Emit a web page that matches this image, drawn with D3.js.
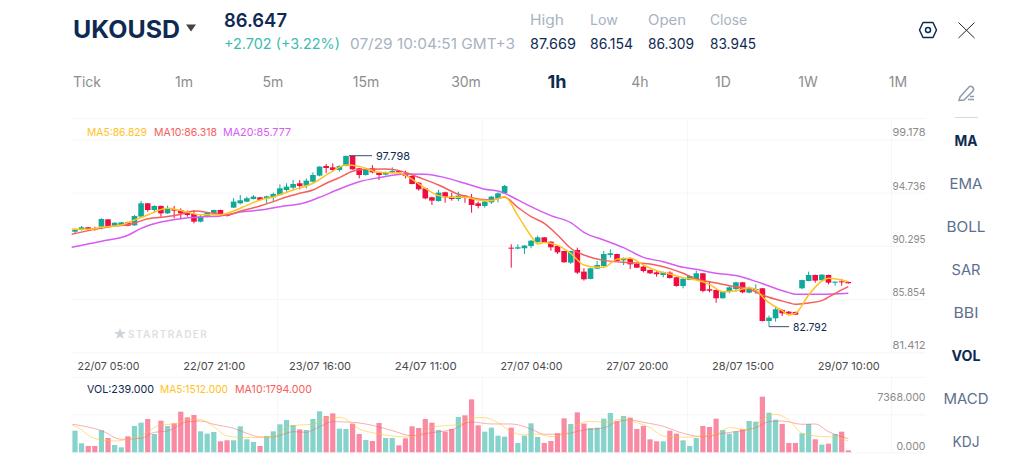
<!DOCTYPE html>
<html>
<head>
<meta charset="utf-8">
<script src="https://cdn.jsdelivr.net/npm/d3@7"></script>
<style>
  html, body { margin: 0; background: #fff; overflow: hidden; }
  text { font-family: Inter, "Open Sans", sans-serif; }
</style>
</head>
<body>
<div id="chart"></div>
<script>
// hourly candles
const open = [91.47,91.67,91.84,91.78,91.89,92.50,91.95,92.03,92.25,92.00,
  92.73,93.84,93.28,93.62,93.00,93.34,93.28,93.09,92.95,92.31,
  92.73,93.00,93.28,92.87,93.48,93.84,93.98,94.20,94.34,94.26,
  94.34,94.53,94.95,95.14,95.51,95.31,95.64,96.15,96.95,96.84,
  96.62,96.95,97.79,96.76,96.20,96.76,96.42,96.23,96.42,96.53,
  96.34,96.12,95.56,95.09,94.34,94.03,94.76,94.39,94.20,94.48,
  94.20,93.84,93.62,93.92,94.25,94.67,90.14,90.06,90.09,90.28,
  90.59,91.00,90.64,90.28,89.86,88.89,89.95,88.14,87.53,88.39,
  88.61,89.53,89.61,89.08,89.20,88.78,88.56,88.28,88.08,87.86,
  88.06,87.67,86.94,87.44,87.50,88.00,86.67,86.61,85.92,86.44,
  86.69,87.25,86.39,86.61,86.75,84.02,84.25,84.94,84.80,84.78,
  86.75,87.36,87.86,87.42,87.86,87.22,87.33,87.28];
const high = [91.73,91.95,91.86,91.89,92.59,92.53,92.25,92.28,92.31,92.86,
  94.03,93.87,93.67,93.64,93.64,93.62,93.42,93.23,93.28,92.86,
  93.12,93.31,93.31,93.00,94.26,94.53,94.40,94.53,94.37,94.48,
  94.73,95.42,95.51,95.78,95.78,95.92,96.42,96.92,97.12,97.17,
  97.01,97.81,97.81,96.79,96.70,97.03,96.45,96.48,96.84,96.62,
  96.56,96.17,95.62,95.14,94.39,94.95,94.81,94.73,94.81,94.53,
  94.62,93.98,94.03,94.45,94.76,95.37,90.42,90.42,90.36,90.78,
  91.14,91.03,90.67,90.31,89.89,89.89,90.14,88.42,88.45,89.03,
  89.86,90.00,89.64,89.33,89.33,88.81,88.69,88.31,88.22,88.14,
  88.17,87.69,87.58,87.83,88.22,88.03,87.30,86.64,86.47,86.92,
  87.30,87.28,86.89,87.08,86.78,84.47,85.22,85.00,84.86,84.80,
  87.47,88.14,87.89,87.92,87.89,87.33,87.53,87.30];
const low = [91.34,91.56,91.67,91.56,91.67,91.89,91.89,92.00,91.92,91.95,
  92.70,93.14,93.06,92.73,92.95,92.59,92.50,92.73,92.17,92.25,
  92.67,92.95,92.81,92.73,93.45,93.75,93.95,94.17,94.09,93.84,
  93.98,94.50,94.81,94.95,95.00,95.09,95.59,96.09,96.34,96.53,
  96.48,96.92,96.65,95.92,96.15,96.34,95.78,96.17,96.34,96.34,
  95.92,95.42,94.89,94.17,93.70,93.98,93.89,94.06,94.03,93.89,
  93.06,93.42,93.48,93.78,93.92,94.62,88.47,90.00,89.61,90.09,
  90.56,90.56,89.89,89.61,88.89,88.78,87.94,87.39,87.50,88.36,
  88.56,89.31,89.00,88.69,88.36,88.45,88.08,87.94,87.72,87.67,
  87.56,86.89,86.75,87.42,87.44,86.42,86.42,85.55,85.89,86.33,
  86.47,86.33,86.33,86.28,83.99,83.55,83.97,84.44,84.61,84.53,
  86.67,87.33,87.22,87.39,87.08,86.97,86.97,87.14];
const close = [91.61,91.84,91.70,91.67,92.53,91.95,92.22,92.25,91.97,92.78,
  93.84,93.28,93.62,93.00,93.42,93.23,93.00,92.86,92.31,92.73,
  93.06,93.28,92.95,92.81,93.98,94.09,94.26,94.40,94.12,94.42,
  94.62,95.09,95.23,95.45,95.28,95.73,96.20,96.90,96.78,96.62,
  96.95,97.79,96.67,96.20,96.62,96.42,96.20,96.42,96.53,96.42,
  96.12,95.45,95.01,94.25,94.06,94.73,94.34,94.20,94.48,94.39,
  93.70,93.62,93.98,94.39,94.67,95.28,90.06,90.17,90.31,90.72,
  91.00,90.59,90.17,89.75,88.92,89.86,88.06,87.50,88.42,88.69,
  89.61,89.67,89.03,89.25,88.75,88.47,88.19,88.00,87.92,88.08,
  87.61,86.94,87.55,87.78,88.00,86.53,86.55,85.92,86.44,86.83,
  87.25,86.42,86.75,86.69,84.02,84.30,85.00,84.66,84.64,84.55,
  87.44,87.86,87.39,87.89,87.22,87.30,87.25,87.17];

const volume = [2646,1099,773,773,2686,1750,895,610,1954,3215,
  3622,4070,2238,3866,3215,3541,4965,4273,4558,2564,
  2279,2483,1343,1465,1465,3175,1587,1262,773,1954,
  2564,3419,3948,3337,2808,2727,4070,5006,4436,4762,
  2890,2849,3500,2238,1506,1384,3582,1750,1750,855,
  1709,3175,2971,4070,3622,2727,2523,2849,4314,4518,
  6471,3297,2523,3012,2035,1913,3012,1140,2035,3541,
  1872,1140,1384,2320,4151,3460,4884,3500,2971,3012,
  4111,4803,3785,4436,4233,2849,3215,1587,1343,1343,
  2646,2279,1465,773,1750,3215,3093,4111,2727,2279,
  2564,2808,3826,3744,6797,4843,3989,3460,1140,1140,
  2320,3460,1587,936,1058,2238,2523,239];

// moving average lines, sampled along the drawn curves (bar index, value)
const ma5Bars = [-0.5,2,4,7,9,11,14,16,19,22,24,26,28,30,32,33,36,39,41,43,46,49,51,53,55,57,59,61,63,65,67,69,70,71,73,75,77,79,80,82,84,86,88,90,92,94,96,98,100,102,103,104,105,107,108,109,111,113,114,116,117];
const ma5Vals = [91.67,91.67,91.84,92.03,92.45,92.86,93.42,93.23,92.89,92.89,93.20,93.67,94.12,94.37,94.76,94.95,95.51,96.53,97.03,96.92,96.42,96.37,95.84,95.09,94.48,94.34,94.34,94.12,94.06,94.39,92.81,91.11,90.45,90.56,90.33,89.67,88.69,88.50,88.50,89.17,89.25,88.69,88.22,87.94,87.64,87.44,87.08,86.47,86.55,86.80,86.67,86.05,85.55,84.89,84.53,84.66,86.19,87.36,87.58,87.44,87.30];
const ma10Bars = [-0.5,2,5,9,11,14,16,18,21,23,25,28,30,32,34,36,38,40,42,44,47,50,52,55,58,61,63,65,67,69,71,73,75,77,80,84,87,90,92,94,96,99,102,104,106,108,109,111,113,115,117];
const ma10Vals = [91.25,91.56,91.86,92.17,92.56,92.73,92.92,93.20,93.00,92.87,93.17,93.62,93.98,94.37,94.67,94.95,95.51,95.98,96.51,96.67,96.70,96.42,96.01,95.37,94.59,94.20,94.12,94.34,93.50,92.73,92.17,91.20,90.09,89.53,89.08,88.89,88.78,88.39,88.00,87.50,87.30,86.97,86.69,86.19,85.83,85.55,85.41,85.53,85.72,86.33,86.89];
const ma20Bars = [-0.5,4,8,10,13,16,19,22,25,28,32,34,37,40,43,46,50,53,56,59,62,64,65,67,69,72,75,77,80,83,86,89,92,94,97,100,103,105,108,109,113,117];
const ma20Vals = [90.17,90.67,91.17,91.75,92.28,92.56,92.70,92.78,93.11,93.28,93.64,93.78,94.34,95.03,95.64,95.98,96.28,96.26,95.98,95.51,95.01,94.87,94.67,94.12,93.56,92.81,92.23,91.42,90.78,90.14,89.33,88.97,88.50,88.33,88.00,87.81,87.33,86.94,86.39,86.25,86.25,86.33];

const volMa5Bars = [-0.4,1,2,4,6,8,10,11,13,15,17,19,21,23,25,28,30,32,34,36,38,40,41,43,45,47,50,52,54,56,58,60,62,64,66,68,70,72,74,76,78,80,83,85,87,89,92,95,97,99,102,104,106,108,110,112,115,117];
const volMa5Vals = [3337,2727,2076,1506,1384,1587,1994,2523,3337,3460,4029,3989,3134,1994,1832,1791,1872,3053,3337,3419,4151,4274,4029,2849,2401,2116,1872,2116,3093,3256,3378,4192,4233,3622,2523,2116,2238,1913,2238,3337,3785,3663,4070,3622,3012,1994,1832,1994,2238,3012,2727,4029,4640,3948,2320,1994,1832,1384];
const volMa10Bars = [-0.4,2,4,7,10,12,14,17,19,21,24,26,28,30,33,35,37,39,42,45,48,51,54,57,60,63,66,69,71,74,77,80,82,84,86,89,92,95,98,101,103,105,107,110,112,114,117];
const volMa10Vals = [3419,3093,2646,1587,1709,2442,2605,3744,3826,3419,2930,2320,1872,1872,2523,2442,3134,3744,3663,3297,2646,2035,2401,2768,3704,3460,3460,2849,2198,2238,2727,2971,3744,3948,3663,3175,2320,1913,2320,2646,3012,3744,3826,3419,3460,2523,1669];

const priceTicks = [99.178, 94.736, 90.295, 85.854, 81.412];
const priceGrid = [100.95, 99.178, 94.736, 90.295, 85.854, 81.412];
const volTicks = [7368, 0];
const volGrid = [9237, 4643, 0];
const timeBars = [5, 21, 37, 53, 69, 85, 101, 117];
const timeLabels = ["22/07 05:00","22/07 21:00","23/07 16:00","24/07 11:00","27/07 04:00","27/07 20:00","28/07 15:00","29/07 10:00"];

const periods = ["Tick","1m","5m","15m","30m","1h","4h","1D","1W","1M"];
const periodX = [87,184,273,366,466,557,640,723,808,898];
const sideItems = ["MA","EMA","BOLL","SAR","BBI","VOL","MACD","KDJ"];
const sideWidths = [23,33,39,29,25,29,45,27];
const sideBold = ["MA","VOL"];
const quoteNames = ["High","Low","Open","Close"];
const quoteWidths = [34,28,38,37];
const quoteValues = ["87.669","86.154","86.309","83.945"];
const quoteX = [530,590,648,710];

const navy = "#0f2a52", teal = "#10a899", red = "#f00b40";
const yellow = "#ffc21f", coral = "#f6605c", violet = "#d65cf2";

const width = 1024, height = 471;
const svg = d3.select("#chart").append("svg").attr("width", width).attr("height", height);

const x = d3.scaleLinear().domain([0, 117]).range([75, 848.3]);
const y = d3.scaleLinear().domain([99.178, 81.412]).range([139.3, 352.3]);
const yVol = d3.scaleLinear().domain([0, 7368]).range([452.3, 392]);
const bars = d3.range(open.length);

function label(g, px, py, s, size, fill, opts = {}) {
  const t = g.append("text").attr("x", px).attr("y", py).attr("font-size", size)
    .attr("fill", fill).attr("font-weight", opts.weight || 400)
    .attr("text-anchor", opts.anchor || "start").text(s);
  if (opts.len) t.attr("textLength", opts.len).attr("lengthAdjust", "spacingAndGlyphs");
  return t;
}

// grid
const gridColor = "#f6f6f7";
const grid = svg.append("g");
[[y, priceGrid], [yVol, volGrid]].forEach(([scale, vals]) => {
  grid.selectAll(null).data(vals).enter().append("line")
    .attr("x1", 72).attr("x2", 926)
    .attr("y1", d => scale(d) + 0.5).attr("y2", d => scale(d) + 0.5)
    .attr("stroke", gridColor);
});
[277, 482, 687, 891].forEach(gx => {
  [[118, 352], [377, 452]].forEach(([a, b]) => {
    grid.append("line").attr("x1", gx + 0.5).attr("x2", gx + 0.5).attr("y1", a).attr("y2", b).attr("stroke", gridColor);
  });
});

// watermark
const mark = svg.append("g");
label(mark, 128, 338, "STARTRADER", 10, "#dce0e4", { weight: 600 }).attr("letter-spacing", 1.4);
mark.append("path").attr("transform", "translate(120,334)")
  .attr("d", d3.symbol(d3.symbolStar, 45)).attr("fill", "#cdd4d9");

// candles
const candles = svg.append("g").selectAll("g").data(bars).enter().append("g")
  .attr("fill", i => close[i] >= open[i] ? teal : red)
  .attr("stroke", i => close[i] >= open[i] ? teal : red);
candles.append("line")
  .attr("x1", i => x(i)).attr("x2", i => x(i))
  .attr("y1", i => y(high[i])).attr("y2", i => y(low[i]));
candles.append("rect")
  .attr("x", i => x(i) - 2.8).attr("width", 5.6)
  .attr("y", i => y(Math.max(open[i], close[i])))
  .attr("height", i => Math.max(1, Math.abs(y(open[i]) - y(close[i]))))
  .attr("stroke", "none");

// price moving averages
function curve(g, xs, ys, scale, color, w, alpha) {
  const line = d3.line().x(d => x(d[0])).y(d => scale(d[1])).curve(d3.curveMonotoneX);
  g.append("path").datum(d3.zip(xs, ys)).attr("d", line).attr("fill", "none")
    .attr("stroke", color).attr("stroke-width", w).attr("opacity", alpha);
}
const lines = svg.append("g");
curve(lines, ma20Bars, ma20Vals, y, violet, 1.5, 1);
curve(lines, ma10Bars, ma10Vals, y, coral, 1.5, 1);
curve(lines, ma5Bars, ma5Vals, y, yellow, 1.5, 1);

// high / low call-outs
const call = svg.append("g");
const hiBar = 41, loBar = 105;
call.append("line").attr("x1", x(hiBar) + 3).attr("x2", x(hiBar) + 26)
  .attr("y1", y(high[hiBar])).attr("y2", y(high[hiBar])).attr("stroke", "#3c4c6e");
label(call, x(hiBar) + 30, y(high[hiBar]) + 4, "97.798", 11, navy, { len: 34 });
call.append("line").attr("x1", x(loBar)).attr("x2", x(loBar) + 20)
  .attr("y1", y(low[loBar])).attr("y2", y(low[loBar])).attr("stroke", "#3c4c6e");
label(call, x(loBar) + 24, y(low[loBar]) + 4, "82.792", 11, navy, { len: 34 });

// volume bars and lines
svg.append("g").selectAll("rect").data(bars).enter().append("rect")
  .attr("x", i => x(i) - 2.6).attr("width", 5.2)
  .attr("y", i => yVol(volume[i])).attr("height", i => yVol(0) - yVol(volume[i]))
  .attr("fill", i => close[i] >= open[i] ? "#86d3cc" : "#f98aa3");
const volLines = svg.append("g");
curve(volLines, volMa10Bars, volMa10Vals, yVol, coral, 1, 0.5);
curve(volLines, volMa5Bars, volMa5Vals, yVol, yellow, 1, 0.55);

// axes
const axisX = d3.axisBottom(x).tickValues(timeBars).tickFormat((d, i) => timeLabels[i]).tickSize(0);
const gx = svg.append("g").attr("transform", "translate(0,360)").call(axisX);
gx.select(".domain").remove();
gx.selectAll("text").attr("font-size", 11).attr("fill", "#4a4a4a").attr("font-family", "Inter").attr("dy", 6.5).attr("textLength", 62).attr("lengthAdjust", "spacingAndGlyphs");

const axisY = d3.axisLeft(y).tickValues(priceTicks).tickFormat(d3.format(".3f")).tickSize(0);
const gy = svg.append("g").attr("transform", "translate(925.5,0)").call(axisY);
gy.select(".domain").remove();
gy.selectAll("text").attr("x", 0).attr("dy", -3.5).attr("font-size", 11).attr("font-family", "Inter").attr("fill", "#8b8b8b").attr("textLength", 33).attr("lengthAdjust", "spacingAndGlyphs");

const axisV = d3.axisLeft(yVol).tickValues(volTicks).tickFormat(d3.format(".3f")).tickSize(0);
const gv = svg.append("g").attr("transform", "translate(925.5,0)").call(axisV);
gv.select(".domain").remove();
gv.selectAll("text").attr("x", 0).attr("dy", d => d > 0 ? 8.5 : -2.5).attr("font-size", 11).attr("font-family", "Inter").attr("fill", "#8b8b8b").attr("textLength", d => d > 0 ? 48 : 29).attr("lengthAdjust", "spacingAndGlyphs");

// legends
const legend = svg.append("g");
label(legend, 87, 136, "MA5:86.829", 11, yellow, { len: 60 });
label(legend, 154, 136, "MA10:86.318", 11, coral, { len: 63 });
label(legend, 223, 136, "MA20:85.777", 11, violet, { len: 68 });
label(legend, 87, 393, "VOL:239.000", 11, navy, { len: 67 });
label(legend, 160, 393, "MA5:1512.000", 11, yellow, { len: 68 });
label(legend, 235, 393, "MA10:1794.000", 11, coral, { len: 77 });

// header
const head = svg.append("g");
label(head, 73, 38, "UKOUSD", 24, navy, { weight: 700, len: 107 });
head.append("path").attr("d", "M186,24.5L196,24.5L191,31.5Z").attr("fill", "#444");
label(head, 224, 27, "86.647", 19, navy, { weight: 600, len: 63 });
label(head, 224, 49, "+2.702 (+3.22%)", 14, "#3cbcb0", { len: 116 });
label(head, 350, 49, "07/29 10:04:51 GMT+3", 14, "#a8b2c2", { len: 165 });
quoteNames.forEach((s, i) => {
  label(head, quoteX[i], 25, s, 14, "#a8b2c2", { len: quoteWidths[i] });
  label(head, quoteX[i], 49, quoteValues[i], 14, navy, { len: i === 1 ? 43 : 46 });
});

// period tabs
const tabs = svg.append("g");
periods.forEach((s, i) => {
  const on = s === "1h";
  label(tabs, periodX[i], on ? 88 : 87, s, on ? 18 : 14, on ? navy : "#8d8d8d", { anchor: "middle", weight: on ? 700 : 400 });
});

// side menu
const side = svg.append("g");
sideItems.forEach((s, i) => {
  const bold = sideBold.includes(s);
  label(side, 966, 146 + i * 43, s, 14, bold ? navy : "#5c6f8f", { anchor: "middle", weight: bold ? 700 : 400, len: sideWidths[i] });
});
side.append("line").attr("x1", 955).attr("x2", 978).attr("y1", 117.5).attr("y2", 117.5).attr("stroke", "#d5dae2");

// icons
const icons = svg.append("g").attr("fill", "none");
icons.append("path").attr("d", "M923,22.5L933,22.5L936.5,30L933,37.5L923,37.5L919.5,30Z").attr("stroke", navy).attr("stroke-width", 1.5).attr("stroke-linejoin", "round");
icons.append("circle").attr("cx", 928).attr("cy", 30).attr("r", 2.5).attr("stroke", navy).attr("stroke-width", 1.5);
icons.append("path").attr("d", "M958.5,22.5L974.5,38M974.5,22.5L958.5,38").attr("stroke", "#222").attr("stroke-width", 1);
icons.append("path").attr("d", "M960,97L969,87C971,85 975,88 973,91L964,100L959,100.5ZM968,99.5L974,99.5M970,96.5L974,96.5").attr("stroke", "#8e9bad").attr("stroke-width", 1.5);
</script>
</body>
</html>
